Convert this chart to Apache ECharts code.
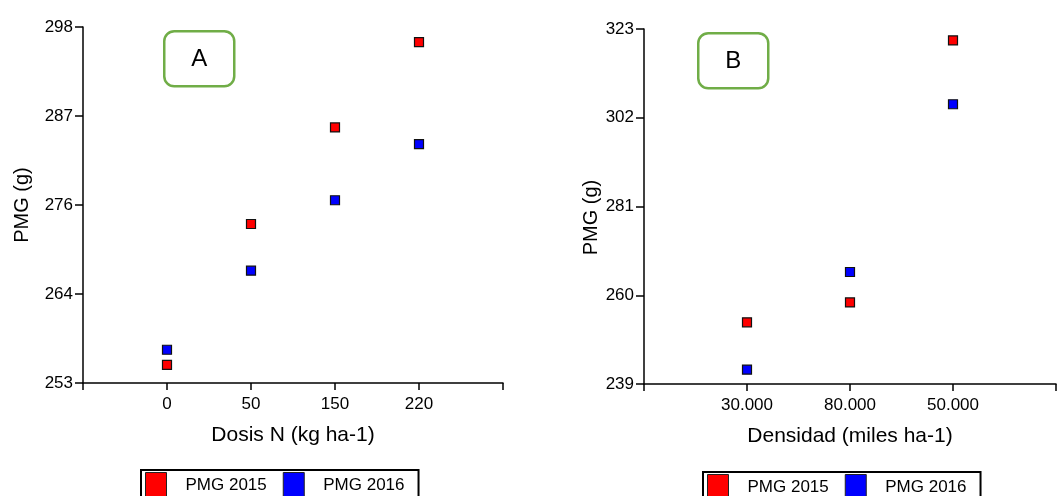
<!DOCTYPE html>
<html>
<head>
<meta charset="utf-8">
<script src="https://cdn.jsdelivr.net/npm/echarts@6/dist/echarts.min.js"></script>
<style>
  html, body { margin: 0; padding: 0; background: #fff; }
  #main { width: 1059px; height: 496px; }
</style>
</head>
<body>
<div id="main"></div>
<script>
// panel A - dosis de N
const dosisLabels = ['0', '50', '150', '220'];
const pmgA2015 = [255.3, 273.1, 285.3, 296.1];
const pmgA2016 = [257.2, 267.2, 276.1, 283.2];
const yTicksA = ['253', '264', '276', '287', '298'];

// panel B - densidad
const densidadLabels = ['30.000', '80.000', '50.000'];
const pmgB2015 = [253.6, 258.3, 320.3];
const pmgB2016 = [242.4, 265.5, 305.2];
const yTicksB = ['239', '260', '281', '302', '323'];

const FONT = 'Liberation Sans, Arial, sans-serif';
const RED = '#ff0000';
const BLUE = '#0000ff';

const chart = echarts.init(document.getElementById('main'));

// x positions are 1..n, with an empty slot at both ends
function pts(vals) {
  return vals.map((v, i) => [i + 1, v]);
}

function xAxisFor(gridIndex, labels, max, name, nameGap) {
  return {
    gridIndex: gridIndex,
    type: 'value',
    min: 0,
    max: max,
    interval: 1,
    name: name,
    nameLocation: 'middle',
    nameGap: nameGap,
    nameTextStyle: { fontFamily: FONT, fontSize: 21, color: '#000' },
    axisLine: { show: true, lineStyle: { color: '#000', width: 1.5 } },
    axisTick: { show: true, length: 7, lineStyle: { color: '#000', width: 1.5 } },
    splitLine: { show: false },
    axisLabel: {
      margin: 13,
      fontFamily: FONT, fontSize: 17, color: '#000',
      formatter: function (v) { return labels[v - 1] || ''; }
    }
  };
}

// visible axis: one tick per label; hidden axis carries the data values
function yAxesFor(gridIndex, ticks, nameGap, namePad) {
  return [{
    gridIndex: gridIndex,
    type: 'value',
    min: 0,
    max: ticks.length - 1,
    interval: 1,
    name: 'PMG (g)',
    nameLocation: 'middle',
    nameGap: nameGap,
    nameTextStyle: { fontFamily: FONT, fontSize: 20, color: '#000', padding: namePad },
    axisLine: { show: true, lineStyle: { color: '#000', width: 1.5 } },
    axisTick: { show: true, length: 8, lineStyle: { color: '#000', width: 1.5 } },
    splitLine: { show: false },
    axisLabel: {
      margin: 10,
      fontFamily: FONT, fontSize: 17, color: '#000',
      formatter: function (v) { return ticks[v]; }
    }
  }, {
    gridIndex: gridIndex,
    type: 'value',
    show: false,
    min: Number(ticks[0]),
    max: Number(ticks[ticks.length - 1]),
    splitLine: { show: false }
  }];
}

function scatter(name, color, data, xi, yi) {
  return {
    name: name,
    type: 'scatter',
    xAxisIndex: xi,
    yAxisIndex: yi,
    symbol: 'rect',
    symbolSize: 9,
    itemStyle: { color: color, borderColor: '#111', borderWidth: 1.2, opacity: 1 },
    data: data
  };
}

function legendAt(left, top) {
  return {
    left: left,
    top: top,
    orient: 'horizontal',
    data: ['PMG 2015', 'PMG 2016'],
    icon: 'rect',
    itemWidth: 21,
    itemHeight: 26,
    itemGap: 16,
    padding: [2, 14, 2, 4],
    borderColor: '#000',
    borderWidth: 2,
    backgroundColor: '#fff',
    selectedMode: false,
    itemStyle: { borderColor: '#222', borderWidth: 1 },
    textStyle: { fontFamily: FONT, fontSize: 17, color: '#000', padding: [0, 0, 0, 14] }
  };
}

function panelTag(letter, x, y) {
  return {
    type: 'group',
    left: x,
    top: y,
    children: [{
      type: 'rect',
      shape: { x: 0, y: 0, width: 70, height: 55, r: 10 },
      style: { fill: '#fff', stroke: '#70ad47', lineWidth: 2.5 }
    }, {
      type: 'text',
      x: 35,
      y: 28,
      style: {
        text: letter, fill: '#000', font: '24px ' + FONT,
        align: 'center', verticalAlign: 'middle'
      }
    }]
  };
}

const option = {
  backgroundColor: '#fff',
  animation: false,
  grid: [
    { left: 83, top: 27, width: 420, height: 356 },
    { left: 644, top: 29, width: 424, height: 355 }
  ],
  xAxis: [
    xAxisFor(0, dosisLabels, dosisLabels.length + 1, 'Dosis N (kg ha-1)', 42),
    xAxisFor(1, densidadLabels, densidadLabels.length + 1, 'Densidad (miles ha-1)', 42)
  ],
  yAxis: [].concat(
    yAxesFor(0, yTicksA, 51, [0, 0, 0, 0]),
    yAxesFor(1, yTicksB, 41, [0, 22, 0, 0])
  ),
  legend: [legendAt(141, 470), legendAt(703, 472)],
  series: [
    scatter('PMG 2015', RED, pts(pmgA2015), 0, 1),
    scatter('PMG 2016', BLUE, pts(pmgA2016), 0, 1),
    scatter('PMG 2015', RED, pts(pmgB2015), 1, 3),
    scatter('PMG 2016', BLUE, pts(pmgB2016), 1, 3)
  ],
  graphic: [
    panelTag('A', 163, 30),
    panelTag('B', 697, 32)
  ]
};

chart.setOption(option);
</script>
</body>
</html>
